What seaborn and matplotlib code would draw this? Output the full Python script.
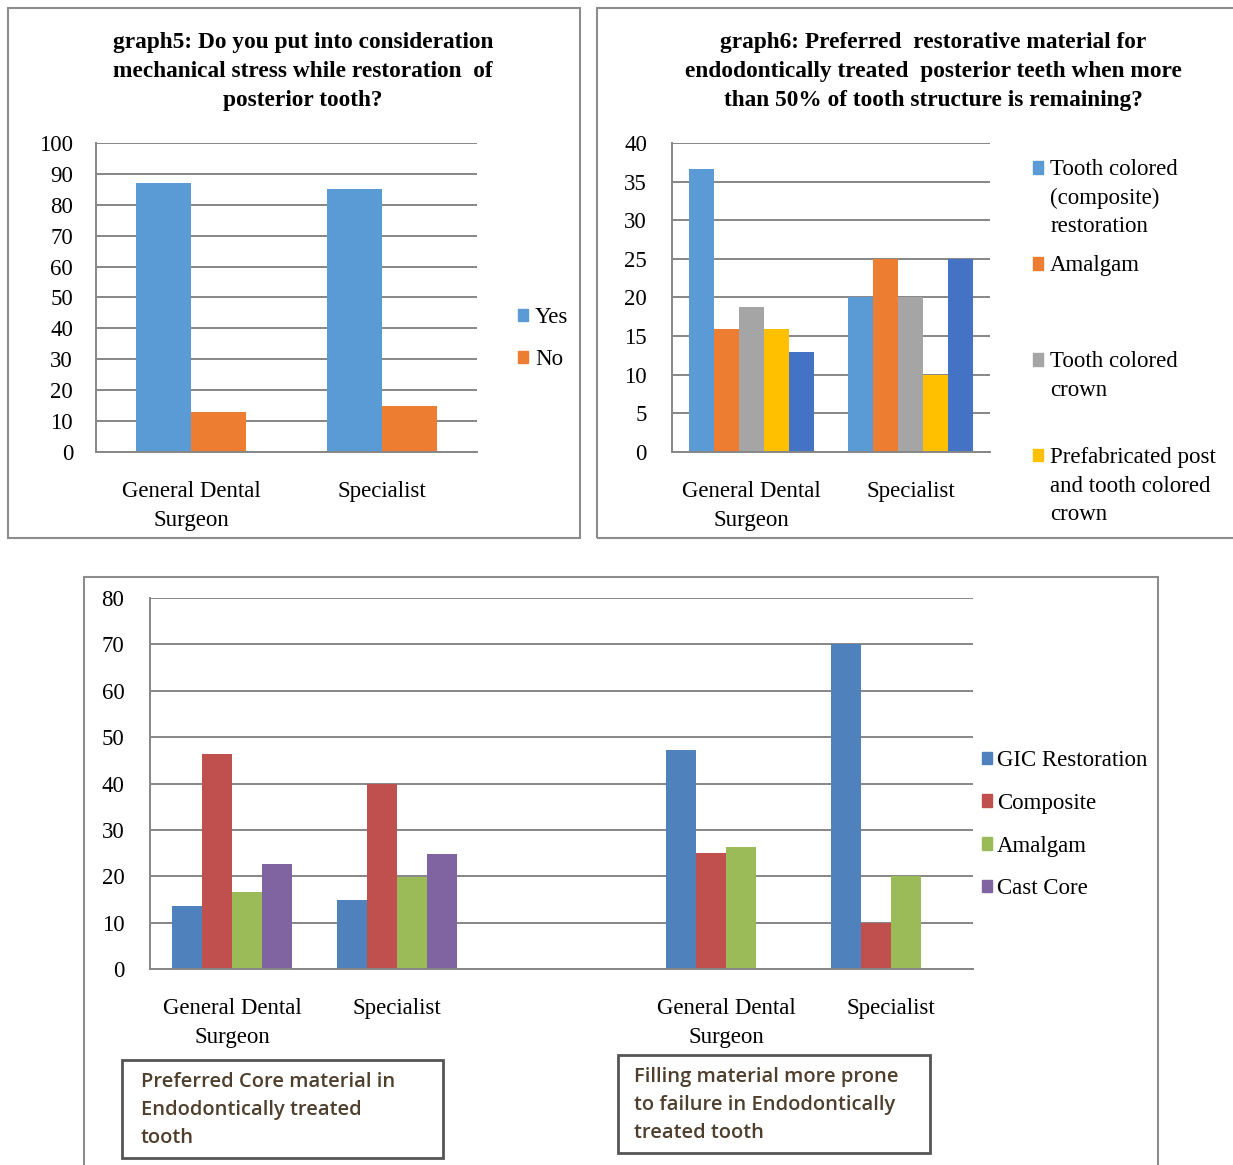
import matplotlib
matplotlib.use('Agg')
import matplotlib.pyplot as plt
from matplotlib.patches import Rectangle
from matplotlib.legend_handler import HandlerPatch
import pandas as pd
import seaborn as sns

# ---- data ----
groups = ['General Dental\nSurgeon', 'Specialist']

# graph5
g5_answers = ['Yes', 'No']
g5_yes = [87, 85]
g5_no = [13, 15]
g5_colors = ['#5B9BD5', '#ED7D31']

# graph6 (fifth series has no legend entry in the original)
g6_materials = ['Tooth colored\n(composite)\nrestoration', 'Amalgam', 'Tooth colored\ncrown',
                'Prefabricated post\nand tooth colored\ncrown', 'Other']
g6_gds = [36.6, 15.9, 18.8, 15.9, 13.0]
g6_specialist = [20, 25, 20, 10, 25]
g6_colors = ['#5B9BD5', '#ED7D31', '#A5A5A5', '#FFC000', '#4472C4']

# bottom chart: core material / filling material
materials3 = ['GIC Restoration', 'Composite', 'Amalgam', 'Cast Core']
core_gds = [13.6, 46.3, 16.5, 22.6]
core_specialist = [14.8, 40, 19.8, 24.9]
fill_gds = [47.2, 25.1, 26.4]
fill_specialist = [70, 10, 20]
colors3 = ['#4F81BD', '#C0504D', '#9BBB59', '#8064A2']
box_core = 'Preferred Core material in\nEndodontically treated\ntooth'
box_fill = 'Filling material more prone\nto failure in Endodontically\ntreated tooth'

title5 = 'graph5: Do you put into consideration\nmechanical stress while restoration  of\nposterior tooth?'
title6 = ('graph6: Preferred  restorative material for\nendodontically treated  posterior teeth when more\n'
          'than 50% of tooth structure is remaining?')

# ---- long-form tables ----
df5 = pd.DataFrame({
    'group': groups * 2,
    'answer': [g5_answers[0]] * 2 + [g5_answers[1]] * 2,
    'value': g5_yes + g5_no,
})
df6 = pd.DataFrame({
    'group': [groups[0]] * len(g6_materials) + [groups[1]] * len(g6_materials),
    'material': g6_materials * 2,
    'value': g6_gds + g6_specialist,
})
rows = []
for key, vals in [('core0', core_gds), ('core1', core_specialist), ('fill0', fill_gds), ('fill1', fill_specialist)]:
    for m, v in zip(materials3, vals):
        rows.append({'slot': key, 'material': m, 'value': v})
df3 = pd.DataFrame(rows)
slots = ['core0', 'core1', 'gap', 'fill0', 'fill1']
slot_labels = [groups[0], groups[1], '', groups[0], groups[1]]

plt.rcParams['font.family'] = ['Liberation Serif', 'DejaVu Serif']
W, H = 1233, 1165
GRID = '#868686'
FS = 16.5
LS = 1.47

fig = plt.figure(figsize=(W / 100, H / 100), dpi=100)


def rect(l, t, r, b):
    return [l / W, 1 - b / H, (r - l) / W, (b - t) / H]


def fx(x):
    return x / W


def fy(y):
    return 1 - y / H


def style_axes(ax, ymax, step, labels, ypad, xpad):
    ax.set_ylim(0, ymax)
    ax.set_yticks(range(0, ymax + 1, step))
    ax.set_xticks(range(len(labels)), labels=labels, linespacing=LS)
    ax.yaxis.grid(True, color=GRID, linewidth=1.4)
    ax.set_axisbelow(True)
    for s in ['top', 'right']:
        ax.spines[s].set_visible(False)
    for s in ['left', 'bottom']:
        ax.spines[s].set_color(GRID)
        ax.spines[s].set_linewidth(1.4)
    ax.tick_params(length=0, labelsize=FS, colors='black')
    ax.tick_params(axis='y', pad=ypad)
    ax.tick_params(axis='x', pad=xpad)
    ax.set_xlabel('')
    ax.set_ylabel('')


def frame(l, t, r, b, ec='#8c8c8c', lw=1.5):
    fig.add_artist(Rectangle((fx(l), fy(b)), (r - l) / W, (b - t) / H, transform=fig.transFigure,
                             fill=False, ec=ec, lw=lw))


# panel frames
frame(8, 8, 580, 538)
frame(597, 8, 1245, 538)
frame(84, 577, 1158, 1180)

# ---- graph5 ----
ax1 = fig.add_axes(rect(96, 143, 477, 452))
sns.barplot(data=df5, x='group', y='value', hue='answer', hue_order=g5_answers, palette=g5_colors,
            width=0.58, saturation=1, errorbar=None, linewidth=0, legend=False, ax=ax1)
style_axes(ax1, 100, 10, groups, 16.5, 21)
h5 = [Rectangle((0, 0), 1, 1, color=c) for c in g5_colors]
ax1.legend(h5, g5_answers, loc='upper left', bbox_to_anchor=(fx(518), fy(307)),
           bbox_transform=fig.transFigure, frameon=False, borderpad=0, borderaxespad=0,
           handlelength=0.45, handleheight=0.45, handletextpad=0.3, labelspacing=0.93, fontsize=FS)
fig.text(fx(303), fy(32), title5, ha='center', va='top', fontsize=16.8, fontweight='bold', linespacing=1.5)

# ---- graph6 ----
ax2 = fig.add_axes(rect(672, 143, 990, 452))
sns.barplot(data=df6, x='group', y='value', hue='material', hue_order=g6_materials, palette=g6_colors,
            width=0.78, saturation=1, errorbar=None, linewidth=0, legend=False, ax=ax2)
style_axes(ax2, 40, 5, groups, 18, 21)

LEG_SHIFT = 22  # points: move the square from block centre up to the first text line


def first_line_square(legend, orig_handle, xdescent, ydescent, width, height, fontsize):
    return Rectangle((-xdescent, -ydescent + LEG_SHIFT), width, height)


h6 = [Rectangle((0, 0), 1, 1, color=c) for c in g6_colors[:4]]
lab6 = [m + '\n' * (2 - m.count('\n')) for m in g6_materials[:4]]
leg6 = ax2.legend(h6, lab6, loc='upper left', bbox_to_anchor=(fx(1033), fy(159)),
                  bbox_transform=fig.transFigure, frameon=False, borderpad=0, borderaxespad=0,
                  handlelength=0.45, handleheight=0.45, handletextpad=0.3, labelspacing=0.78, fontsize=FS,
                  handler_map={h: HandlerPatch(patch_func=first_line_square) for h in h6})
for t in leg6.get_texts():
    t.set_linespacing(LS)
fig.text(fx(933), fy(32), title6, ha='center', va='top', fontsize=16.8, fontweight='bold', linespacing=1.5)

# ---- bottom chart ----
ax3 = fig.add_axes(rect(150, 598, 973, 969))
sns.barplot(data=df3, x='slot', y='value', hue='material', order=slots, hue_order=materials3,
            palette=colors3, width=0.73, saturation=1, errorbar=None, linewidth=0, legend=False, ax=ax3)
style_axes(ax3, 80, 10, slot_labels, 18.5, 21)
h3 = [Rectangle((0, 0), 1, 1, color=c) for c in colors3]
ax3.legend(h3, materials3, loc='upper left', bbox_to_anchor=(fx(982), fy(750)),
           bbox_transform=fig.transFigure, frameon=False, borderpad=0, borderaxespad=0,
           handlelength=0.45, handleheight=0.45, handletextpad=0.2, labelspacing=0.95, fontsize=FS)

# caption boxes under the two groups
frame(122, 1060, 443, 1158, ec='#555555', lw=2)
frame(618, 1055, 930, 1153, ec='#555555', lw=2)
box_font = dict(family=['Open Sans', 'DejaVu Sans'], fontsize=14.5, color='#4f3e2c', fontweight='semibold',
                va='top', ha='left', linespacing=1.52)
fig.text(fx(141), fy(1072), box_core, **box_font)
fig.text(fx(634), fy(1067), box_fill, **box_font)

fig.savefig('out.png', dpi=100, facecolor='white')
